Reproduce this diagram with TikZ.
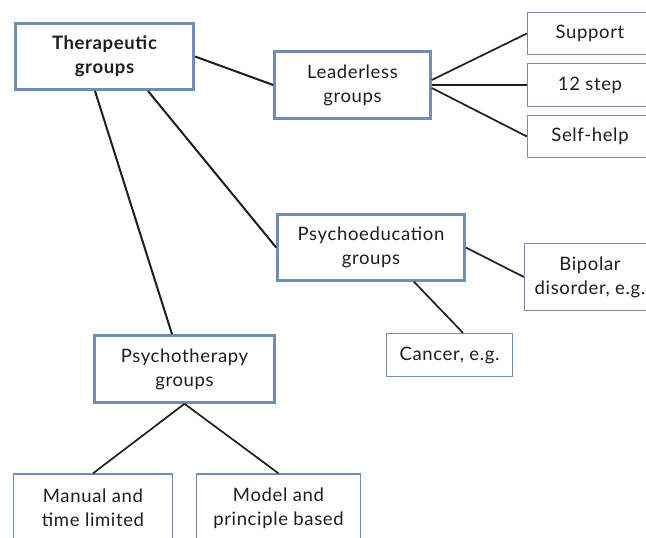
\documentclass[tikz,border=0pt]{standalone}
\usepackage{fontspec}
\setmainfont[LetterSpace=3.5]{Lato}
\definecolor{boxblue}{RGB}{112,141,180}
\definecolor{txt}{RGB}{30,30,30}
\begin{document}
\begin{tikzpicture}[x=1pt,y=-1pt,
  base/.style={draw=boxblue, fill=white, align=center, text=txt, inner sep=0pt,
    font=\fontsize{18.5}{24}\selectfont},
  main/.style={base, line width=2.6pt},
  leaf/.style={base, line width=1.3pt},
  link/.style={line width=2pt, draw=txt},
  sublink/.style={line width=1.7pt, draw=txt}]
\useasboundingbox (0,0) rectangle (646,538);
\clip (0,0) rectangle (646,538);

\node[main, line width=3pt, minimum width=178pt, minimum height=66pt, font=\fontsize{18.5}{24}\selectfont\bfseries] (T) at (104.5,56.5) {Therapeutic\\groups};
\node[main, minimum width=156pt, minimum height=67pt] (L) at (352.5,85) {Leaderless\\groups};
\node[main, minimum width=187pt, minimum height=66pt] (P) at (371,247.5) {Psychoeducation\\groups};
\node[main, minimum width=180pt, minimum height=67pt] (Y) at (184.5,369) {Psychotherapy\\groups};

\node[leaf, minimum width=125pt, minimum height=42pt] (S) at (590,33.5) {Support};
\node[leaf, minimum width=125pt, minimum height=43pt] (D) at (590,85) {12 step};
\node[leaf, minimum width=125pt, minimum height=42pt] (H) at (590,136.5) {Self-help};
\node[leaf, minimum width=131pt, minimum height=67pt] (B) at (590,277) {Bipolar\\disorder, e.g.};
\node[leaf, minimum width=126pt, minimum height=43pt] (C) at (449.5,355) {Cancer, e.g.};
\node[leaf, minimum width=159pt, minimum height=68pt] (M) at (93,508) {Manual and\\time limited};
\node[leaf, minimum width=164pt, minimum height=68pt] (O) at (278.5,508) {Model and\\principle based};

\draw[link] (T.east) -- (L.west);
\draw[link] ([xshift=43.5pt]T.south) -- (P.west);
\draw[link] ([xshift=-9.5pt]T.south) -- ([xshift=-12.5pt]Y.north);

\draw[sublink] ([yshift=5pt]L.east) -- (S.west);
\draw[sublink] (L.east) -- (D.west);
\draw[sublink] ([yshift=-3pt]L.east) -- (H.west);

\draw[sublink] (P.east) -- (B.west);
\draw[sublink] ([xshift=43pt]P.south) -- ([xshift=13.5pt]C.north);

\draw[sublink] (Y.south) -- (M.north);
\draw[sublink] (Y.south) -- (O.north);
\end{tikzpicture}
\end{document}
